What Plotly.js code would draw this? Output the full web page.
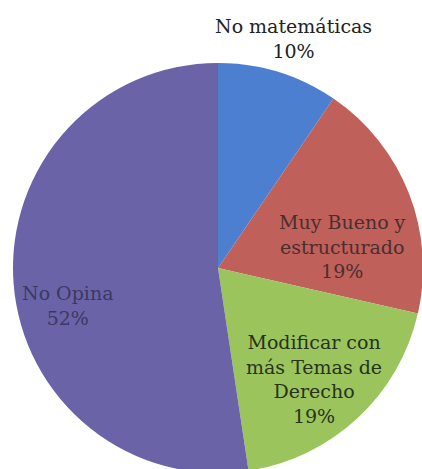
<!DOCTYPE html>
<html>
<head>
<meta charset="utf-8">
<script src="https://cdn.plot.ly/plotly-3.0.1.min.js"></script>
<style>
html,body{margin:0;padding:0;overflow:hidden;background:#fff;width:422px;height:469px;}
#chart{position:absolute;left:0;top:0;}
</style>
</head>
<body>
<div id="chart"></div>
<script>
// Data
var categories = ["No matemáticas", "Muy Bueno y estructurado", "Modificar con más Temas de Derecho", "No Opina"];
var counts = [2, 4, 4, 11];
var labelLines = [["No matemáticas"], ["Muy Bueno y", "estructurado"], ["Modificar con", "más Temas de", "Derecho"], ["No Opina"]];

// Styles / layout
var colors = ["#4d7fd0", "#c0605a", "#9cc45c", "#6b63a8"];
var textColors = ["#222222", "#4a2e2e", "#26331c", "#3a3a62"];
var labelPos = [[293, 39], [342, 247], [314, 379], [67, 305]]; // pixel centres
var W = 436, H = 536, cx = 218, cy = 268, R = 205;
var fontFam = "DejaVu Serif";

var total = counts.reduce(function (a, b) { return a + b; }, 0);
var annotations = categories.map(function (c, i) {
  var pct = Math.round(counts[i] / total * 100) + "%";
  return {
    xref: "paper", yref: "paper",
    x: labelPos[i][0] / W, y: 1 - labelPos[i][1] / H,
    xanchor: "center", yanchor: "middle",
    text: labelLines[i].concat([pct]).join("<br>"),
    showarrow: false,
    font: {family: fontFam, size: 19, color: textColors[i]}
  };
});

var trace = {
  type: "pie",
  labels: categories,
  values: counts,
  sort: false,
  direction: "clockwise",
  rotation: 0,
  textinfo: "none",
  hoverinfo: "skip",
  marker: {colors: colors, line: {width: 0}},
  domain: {x: [(cx - R) / W, (cx + R) / W], y: [(H - cy - R) / H, (H - cy + R) / H]}
};

var layout = {
  width: W, height: H,
  margin: {l: 0, r: 0, t: 0, b: 0},
  paper_bgcolor: "#ffffff",
  showlegend: false,
  font: {family: fontFam},
  annotations: annotations
};

Plotly.newPlot("chart", [trace], layout, {displayModeBar: false, staticPlot: true});
</script>
</body>
</html>
